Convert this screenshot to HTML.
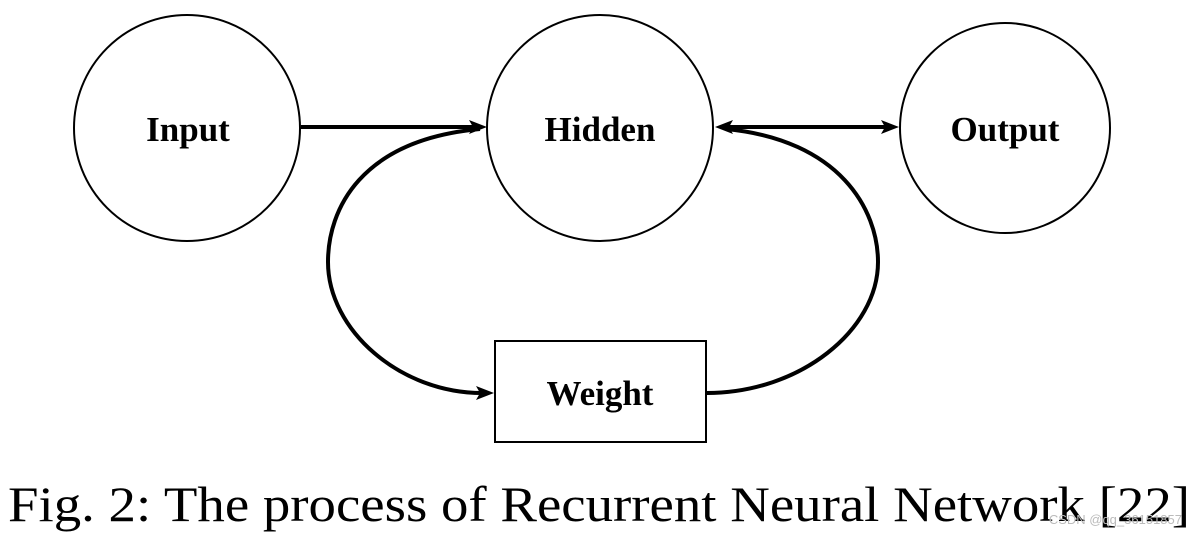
<!DOCTYPE html>
<html><head><style>
body{margin:0;background:#fff;}
svg{display:block}
</style></head><body>
<svg width="1198" height="536" viewBox="0 0 1198 536" xmlns="http://www.w3.org/2000/svg">
<g fill="none" stroke="#000" stroke-width="2">
<circle cx="187" cy="128" r="113"/>
<circle cx="600" cy="128" r="113"/>
<circle cx="1005" cy="128" r="105"/>
<rect x="495" y="341" width="211" height="101"/>
</g>
<g fill="none" stroke="#000" stroke-width="4">
<line x1="301" y1="127" x2="475" y2="127"/>
<line x1="728" y1="127" x2="888" y2="127"/>
<path d="M480,129 C360,140 328,210 328,262 C328,330 400,393 482,393"/>
<path d="M707,393 C800,393 878,330 878,262 C878,210 840,140 726,129"/>
</g>
<g fill="#000">
<polygon points="487,127 469,120 473,127 469,134"/>
<polygon points="899,127 881,120 885,127 881,134"/>
<polygon points="715,127 733,120 729,127 733,134"/>
<polygon points="494,393 476,386 480,393 476,400"/>
</g>
<g font-family="Liberation Serif, serif" font-weight="bold" font-size="35" text-anchor="middle" fill="#000">
<text x="188" y="141">Input</text>
<text x="600" y="141">Hidden</text>
<text x="1005" y="141">Output</text>
<text x="600" y="405">Weight</text>
</g>
<text x="8" y="521" font-family="Liberation Serif, serif" font-size="50" fill="#000" textLength="1182" lengthAdjust="spacingAndGlyphs">Fig. 2: The process of Recurrent Neural Network [22]</text>
<text x="1182" y="524" font-family="Liberation Sans, sans-serif" font-size="13" fill="#bbb" text-anchor="end">CSDN @qq_36151857</text>
</svg>
</body></html>
